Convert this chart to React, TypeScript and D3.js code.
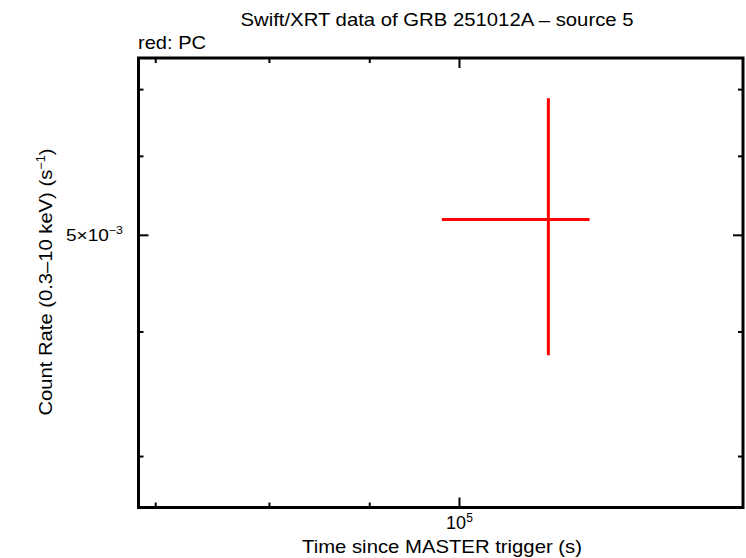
import React from "react";
import * as d3 from "d3";

const W = 746;
const H = 558;
const margin = { left: 138.5, right: 3, top: 58, bottom: 50.5 };

const xDomain = [6.86e4, 1.395e5];
const yDomain = [2.667e-3, 7.53e-3];

// PC data point
const pcTime = [1.11e5];
const pcTimeLo = [9.795e4];
const pcTimeHi = [1.165e5];
const pcRate = [5.187e-3];
const pcRateLo = [3.79e-3];
const pcRateHi = [6.862e-3];

const xMajorTicks = [1e5];
const xMinorTicks = [7e4, 8e4, 9e4];
const yMajorTicks = [5e-3];
const yMinorTicks = [3e-3, 4e-3, 6e-3, 7e-3];

const title = "Swift/XRT data of GRB 251012A \u2013 source 5";
const subtitle = "red: PC";
const xLabel = "Time since MASTER trigger (s)";

export default function App() {
  const x0 = margin.left;
  const x1 = W - margin.right;
  const y0 = margin.top;
  const y1 = H - margin.bottom;
  const x = d3.scaleLog().domain(xDomain).range([x0, x1]);
  const y = d3.scaleLog().domain(yDomain).range([y1, y0]);
  const font = "'Liberation Sans', Arial, Helvetica, sans-serif";
  const majorLen = 10;
  const minorLen = 5;

  return (
    <svg
      width={W}
      height={H}
      style={{ position: "absolute", left: 0, top: 0, background: "#fff" }}
      fontFamily={font}
    >
      <rect x={0} y={0} width={W} height={H} fill="#fff" />
      {/* ticks */}
      {xMajorTicks.map((t) => (
        <g key={"xM" + t}>
          <line x1={x(t)} x2={x(t)} y1={y1} y2={y1 - majorLen} stroke="#000" strokeWidth={2} />
          <line x1={x(t)} x2={x(t)} y1={y0} y2={y0 + majorLen} stroke="#000" strokeWidth={2} />
        </g>
      ))}
      {xMinorTicks.map((t) => (
        <g key={"xm" + t}>
          <line x1={x(t)} x2={x(t)} y1={y1} y2={y1 - minorLen} stroke="#000" strokeWidth={2} />
          <line x1={x(t)} x2={x(t)} y1={y0} y2={y0 + minorLen} stroke="#000" strokeWidth={2} />
        </g>
      ))}
      {yMajorTicks.map((t) => (
        <g key={"yM" + t}>
          <line x1={x0} x2={x0 + majorLen} y1={y(t)} y2={y(t)} stroke="#000" strokeWidth={2} />
          <line x1={x1} x2={x1 - majorLen} y1={y(t)} y2={y(t)} stroke="#000" strokeWidth={2} />
        </g>
      ))}
      {yMinorTicks.map((t) => (
        <g key={"ym" + t}>
          <line x1={x0} x2={x0 + minorLen} y1={y(t)} y2={y(t)} stroke="#000" strokeWidth={2} />
          <line x1={x1} x2={x1 - minorLen} y1={y(t)} y2={y(t)} stroke="#000" strokeWidth={2} />
        </g>
      ))}
      {/* frame */}
      <rect x={x0} y={y0} width={x1 - x0} height={y1 - y0} fill="none" stroke="#000" strokeWidth={3} />

      {/* data */}
      {pcTime.map((t, i) => (
        <g key={"pc" + i} stroke="#ff0000" strokeWidth={3}>
          <line x1={x(pcTimeLo[i])} x2={x(pcTimeHi[i])} y1={y(pcRate[i])} y2={y(pcRate[i])} />
          <line x1={x(t)} x2={x(t)} y1={y(pcRateLo[i])} y2={y(pcRateHi[i])} />
        </g>
      ))}

      {/* tick labels */}
      {xMajorTicks.map((t) => (
        <text key={"xl" + t} x={x(t)} y={529} textAnchor="middle" fontSize={18}>
          10<tspan dy={-7} fontSize={12}>5</tspan>
        </text>
      ))}
      {yMajorTicks.map((t) => (
        <text key={"yl" + t} x={123} y={y(t) + 6} textAnchor="end" fontSize={17} textLength={57} lengthAdjust="spacingAndGlyphs">
          5×10<tspan dy={-7} fontSize={11}>−3</tspan>
        </text>
      ))}

      {/* titles */}
      <text x={437} y={26} textAnchor="middle" fontSize={19} textLength={393} lengthAdjust="spacingAndGlyphs">
        {title}
      </text>
      <text x={138} y={49} fontSize={19} textLength={68} lengthAdjust="spacingAndGlyphs">
        {subtitle}
      </text>
      <text x={442} y={553} textAnchor="middle" fontSize={19} textLength={280} lengthAdjust="spacingAndGlyphs">
        {xLabel}
      </text>
      <text
        transform={`translate(52, 282) rotate(-90)`}
        textAnchor="middle"
        fontSize={19}
        textLength={267}
        lengthAdjust="spacingAndGlyphs"
      >
        Count Rate (0.3–10 keV) (s<tspan dy={-7} fontSize={12}>−1</tspan><tspan dy={7}>)</tspan>
      </text>
    </svg>
  );
}
